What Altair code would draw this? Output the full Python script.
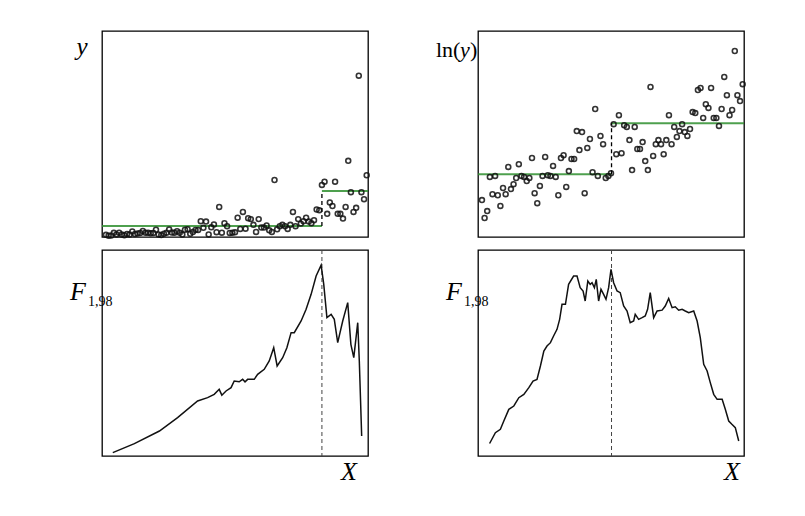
import altair as alt
import pandas as pd

# ---------------- data ----------------
x_idx = list(range(1, 101))
ln_y = [0.61, 0.09, 0.29, 1.28, 0.78, 1.31, 0.75, 0.44, 0.96, 0.78,
        1.57, 0.93, 1.07, 1.25, 1.65, 1.31, 1.28, 1.16, 1.25, 1.83,
        0.81, 0.52, 1.02, 1.31, 1.86, 1.33, 1.31, 1.60, 1.28, 0.75,
        1.83, 1.91, 0.99, 1.45, 1.80, 1.80, 2.61, 2.06, 2.58, 0.81,
        2.12, 2.38, 1.42, 3.25, 1.31, 2.47, 2.23, 1.25, 1.31, 1.39,
        2.81, 1.94, 3.07, 1.97, 2.78, 2.73, 2.35, 1.48, 2.73, 2.09,
        2.09, 2.29, 1.74, 1.48, 3.89, 1.89, 2.23, 2.35, 2.23, 1.94,
        2.35, 3.07, 2.23, 2.73, 2.44, 2.61, 2.81, 2.58, 2.47, 2.67,
        3.16, 3.13, 3.80, 3.86, 2.99, 3.39, 3.28, 3.86, 2.99, 2.99,
        2.76, 3.25, 4.18, 3.65, 3.07, 3.22, 4.93, 3.65, 3.48, 3.97]

level_y = [9.4, 39.5]        # segment means of y
break_y = 83.0
level_lny = [1.36, 2.84]     # segment means of ln(y)
break_lny = 50.2

F_y_x = [3.6, 11.8, 21.3, 28.2, 35.8, 39.6, 42.1, 44.0, 45.0, 46.6, 48.5, 49.7,
         51.6, 52.9, 53.8, 54.8, 57.3, 58.6, 61.1, 63.0, 64.7, 66.0, 68.1, 69.7,
         71.3, 72.5, 75.1, 77.0, 78.9, 80.8, 82.7, 83.7, 84.9, 86.5, 87.7, 89.0,
         90.9, 92.8, 94.0, 95.1, 96.6, 97.2, 98.1]
F_y = [0.40, 1.48, 3.0, 4.6, 6.6, 7.0, 7.4, 8.0, 7.3, 7.8, 8.2, 9.0,
       8.9, 9.2, 8.9, 9.2, 9.2, 9.8, 10.4, 11.4, 13.0, 10.8, 11.8, 13.0,
       14.8, 14.8, 16.2, 17.6, 19.4, 21.6, 22.9, 20.6, 16.6, 17.0, 16.4, 13.6,
       16.2, 18.4, 13.4, 11.8, 16.0, 11.4, 2.4]

F_ln_x = [3.9, 6.1, 8.0, 9.3, 11.2, 13.1, 15.0, 16.9, 18.8, 20.4, 21.9, 23.2,
          24.5, 25.7, 27.0, 28.2, 29.5, 30.5, 31.4, 32.7, 33.9, 35.8, 37.1, 38.3,
          39.4, 40.2, 41.2, 42.1, 42.8, 43.7, 44.4, 45.3, 46.2, 47.2, 48.1, 49.1,
          50.0, 51.0, 52.3, 53.5, 54.8, 56.1, 57.3, 58.6, 59.2, 60.5, 61.8, 63.0,
          63.9, 64.9, 66.2, 67.5, 69.4, 70.6, 71.9, 73.2, 74.4, 75.7, 77.0, 78.2,
          79.5, 81.4, 82.7, 83.9, 85.2, 86.5, 87.7, 89.0, 90.3, 92.2, 93.4, 94.7,
          95.9, 97.2, 98.5]
F_ln = [1.5, 2.8, 3.2, 4.2, 5.6, 6.0, 7.0, 7.4, 8.2, 9.0, 9.2, 10.8,
        12.6, 13.2, 13.6, 14.4, 15.2, 16.4, 18.2, 18.2, 20.6, 21.6, 21.6, 20.2,
        19.8, 18.6, 21.0, 20.6, 20.8, 20.2, 21.2, 18.6, 20.0, 19.4, 18.8, 20.2,
        22.4, 20.8, 19.8, 19.6, 18.0, 17.4, 16.0, 16.2, 17.0, 16.4, 16.6, 16.8,
        17.6, 19.6, 16.6, 17.4, 17.5, 18.0, 18.9, 17.8, 17.9, 17.5, 17.6, 17.4,
        17.2, 17.4, 16.2, 14.2, 11.0, 10.2, 8.8, 7.4, 6.8, 6.8, 5.6, 4.2,
        3.8, 3.4, 1.8]

# ---------------- styling ----------------
W, H = 266, 206
X_DOMAIN = [-0.5, 100.5]
FONT = "Liberation Serif"
GREEN = "#2f8f2f"

xs = alt.Scale(domain=X_DOMAIN, nice=False, zero=False)

pts = pd.DataFrame({"x": x_idx, "lny": ln_y})


def label(txt, x, y, size, italic=True, align="left"):
    return alt.Chart(pd.DataFrame({"t": [txt]})).mark_text(
        font=FONT, fontSize=size, fontStyle="italic" if italic else "normal",
        align=align, baseline="alphabetic", color="black"
    ).encode(x=alt.value(x), y=alt.value(y), text="t:N")


def top_panel(field, ydomain, levels, brk, labels):
    ys = alt.Scale(domain=ydomain, nice=False, zero=False)
    base = alt.Chart(pts)
    if field == "y":
        base = base.transform_calculate(y="exp(datum.lny)")
    scatter = base.mark_point(
        shape="circle", filled=False, size=24, stroke="#111111", strokeWidth=1.6, opacity=0.85
    ).encode(x=alt.X("x:Q", scale=xs, axis=None), y=alt.Y(f"{field}:Q", scale=ys, axis=None))
    seg = pd.DataFrame({"x0": [X_DOMAIN[0], brk], "x1": [brk, X_DOMAIN[1]], "lev": levels})
    steps = alt.Chart(seg).mark_rule(color=GREEN, strokeWidth=2, opacity=0.85).encode(
        x=alt.X("x0:Q", scale=xs, axis=None), x2="x1:Q",
        y=alt.Y("lev:Q", scale=ys, axis=None))
    jump = alt.Chart(pd.DataFrame({"x": [brk], "a": [levels[0]], "b": [levels[1]]})).mark_rule(
        color="black", strokeDash=[4, 3], strokeWidth=1.3).encode(
        x=alt.X("x:Q", scale=xs, axis=None), y=alt.Y("a:Q", scale=ys, axis=None), y2="b:Q")
    return alt.layer(steps, scatter, jump, *labels).properties(width=W, height=H)


def bottom_panel(fx, fv, brk, labels):
    ys = alt.Scale(domain=[0, 24.72], nice=False, zero=False)
    df = pd.DataFrame({"x": fx, "F": fv})
    line = alt.Chart(df).mark_line(color="#111111", strokeWidth=1.5).encode(
        x=alt.X("x:Q", scale=xs, axis=None), y=alt.Y("F:Q", scale=ys, axis=None))
    vline = alt.Chart(pd.DataFrame({"x": [brk]})).mark_rule(
        color="#444444", strokeDash=[4, 3], strokeWidth=1).encode(
        x=alt.X("x:Q", scale=xs, axis=None))
    return alt.layer(vline, line, *labels).properties(width=W, height=H)


tl = top_panel("y", [0, 176.7], level_y, break_y,
               [label("y", -20, 24, 25, align="center")])
tr = top_panel("lny", [-0.46, 5.51], level_lny, break_lny,
               [label("ln(", -42, 26, 22, italic=False),
                label("y", -18, 26, 22),
                label(")", -8, 26, 22, italic=False)])
bl = bottom_panel(F_y_x, F_y, break_y,
                  [label("F", -32, 50, 26), label("1,98", -14, 56, 14, italic=False),
                   label("X", 247, 230, 26, align="center")])
br = bottom_panel(F_ln_x, F_ln, break_lny,
                  [label("F", -32, 50, 26), label("1,98", -14, 56, 14, italic=False),
                   label("X", 254, 230, 26, align="center")])

chart = alt.concat(
    tl, tr, bl, br, columns=2,
    spacing={"row": 13, "column": 110}, bounds="flush",
).properties(
    padding={"left": 69, "top": 30, "right": 10, "bottom": 10},
    background="white",
).configure_view(stroke="black", strokeWidth=1.3)

chart.save("out.html", embed_options={"renderer": "svg", "actions": False})
